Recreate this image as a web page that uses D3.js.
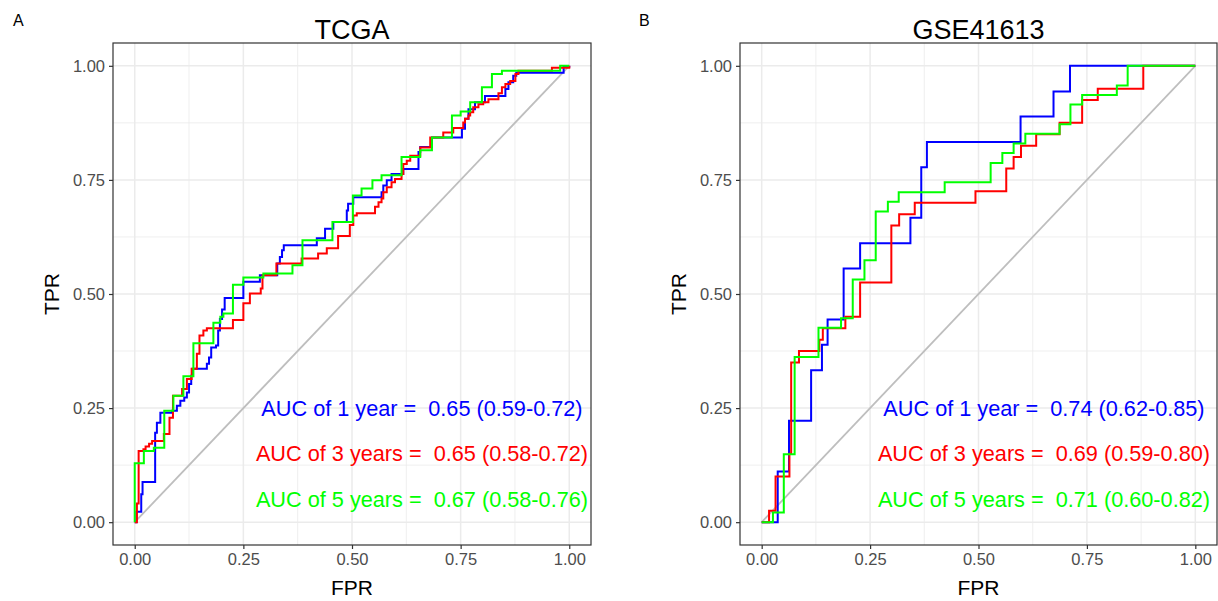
<!DOCTYPE html>
<html>
<head>
<meta charset="utf-8">
<script src="https://cdn.jsdelivr.net/npm/d3@7"></script>
<style>
  body { margin: 0; background: #fff; }
  text { font-family: "Liberation Sans", Arial, sans-serif; }
</style>
</head>
<body>
<div id="roc"></div>
<script>
// step corners: [fpr, tpr] = where the curve climbs to tpr
var tcga1 = [[0,0],[.004,.023],[.015,.061],[.018,.088],[.047,.196],[.051,.218],[.059,.240],[.086,.244],
  [.097,.255],[.105,.266],[.114,.273],[.120,.284],[.125,.303],[.130,.321],[.133,.336],[.166,.347],
  [.171,.361],[.176,.383],[.187,.387],[.192,.420],[.196,.445],[.201,.466],[.207,.491],[.250,.527],
  [.288,.541],[.328,.567],[.334,.581],[.339,.596],[.343,.607],[.419,.622],[.438,.643],[.457,.658],
  [.488,.683],[.491,.698],[.503,.712],[.568,.723],[.572,.738],[.580,.749],[.591,.763],[.618,.774],
  [.653,.811],[.657,.822],[.684,.843],[.753,.862],[.760,.884],[.768,.905],[.783,.920],[.806,.934],
  [.853,.949],[.860,.964],[.871,.978],[.878,.985],[.987,.998],[1,1]];
var tcga3 = [[0,0],[.005,.041],[.009,.156],[.020,.160],[.025,.166],[.033,.172],[.040,.178],[.067,.193],
  [.080,.229],[.088,.277],[.109,.292],[.120,.314],[.131,.336],[.143,.369],[.149,.409],[.158,.420],
  [.166,.425],[.226,.443],[.250,.480],[.265,.501],[.290,.512],[.294,.541],[.326,.567],[.384,.578],
  [.422,.589],[.442,.600],[.468,.627],[.495,.651],[.503,.672],[.511,.677],[.553,.691],[.561,.701],
  [.568,.709],[.572,.723],[.580,.734],[.591,.745],[.599,.752],[.614,.763],[.618,.785],[.626,.792],
  [.634,.803],[.657,.821],[.680,.843],[.710,.854],[.733,.864],[.756,.876],[.760,.884],[.768,.891],
  [.772,.898],[.779,.909],[.791,.916],[.802,.920],[.814,.927],[.837,.940],[.845,.953],[.853,.960],
  [.864,.967],[.876,.982],[.883,.989],[.960,.996],[1,1]];
var tcga5 = [[0,0],[0,.129],[.021,.156],[.044,.163],[.068,.244],[.089,.277],[.112,.320],[.135,.392],
  [.181,.437],[.197,.450],[.204,.457],[.226,.520],[.250,.536],[.296,.545],[.363,.563],[.386,.618],
  [.455,.658],[.502,.716],[.522,.731],[.547,.749],[.568,.760],[.614,.800],[.657,.815],[.684,.843],
  [.730,.891],[.750,.900],[.772,.920],[.799,.953],[.822,.982],[.845,.989],[.979,1],[1,1]];

var gse1 = [[0,0],[.037,.111],[.063,.222],[.114,.333],[.139,.389],[.152,.444],[.189,.556],[.227,.611],
  [.343,.667],[.368,.778],[.381,.833],[.597,.889],[.673,.944],[.711,1],[1,1]];
var gse3 = [[0,0],[.017,.025],[.032,.100],[.064,.150],[.068,.350],[.086,.375],[.133,.400],[.141,.425],
  [.193,.450],[.227,.525],[.299,.650],[.317,.675],[.353,.700],[.493,.725],[.564,.775],[.581,.800],
  [.598,.825],[.633,.850],[.687,.875],[.739,.925],[.775,.950],[.880,1],[1,1]];
var gse5 = [[0,0],[.026,.021],[.051,.149],[.076,.362],[.131,.426],[.183,.447],[.210,.532],[.237,.574],
  [.263,.681],[.291,.702],[.316,.723],[.422,.745],[.528,.787],[.555,.809],[.581,.830],[.608,.851],
  [.687,.872],[.712,.915],[.739,.936],[.819,.957],[.844,1],[1,1]];

var years   = ["1 year", "3 years", "5 years"];
var tcgaAuc = ["0.65 (0.59-0.72)", "0.65 (0.58-0.72)", "0.67 (0.58-0.76)"];
var gseAuc  = ["0.74 (0.62-0.85)", "0.69 (0.59-0.80)", "0.71 (0.60-0.82)"];
var ticks   = [0, 0.25, 0.5, 0.75, 1];
var minor   = [0.125, 0.375, 0.625, 0.875];
var colors  = ["#0000ff", "#ff0000", "#00ff00"];

var svg = d3.select("#roc").append("svg")
    .attr("width", 1218)
    .attr("height", 601);

var panels = [
  {tag: "A", tagX: 13, title: "TCGA",     left: 113, right: 591,  curves: [tcga1, tcga3, tcga5], auc: tcgaAuc, labX: 0.661, ttlX: 51},
  {tag: "B", tagX: 639, title: "GSE41613", left: 740, right: 1217, curves: [gse1, gse3, gse5],   auc: gseAuc,  labX: 0.651, ttlX: 678}
];

var pTop = 43, pBottom = 545;

panels.forEach((p) => {
  var x = d3.scaleLinear().domain([-0.05, 1.05]).range([p.left, p.right]);
  var y = d3.scaleLinear().domain([-0.05, 1.05]).range([pBottom, pTop]);
  var g = svg.append("g");

  // grid
  g.selectAll(".mx").data(minor).enter().append("line")
      .attr("x1", (d) => x(d)).attr("x2", (d) => x(d))
      .attr("y1", pTop).attr("y2", pBottom)
      .attr("style", "stroke: #ebebeb; stroke-width: 0.8;");
  g.selectAll(".my").data(minor).enter().append("line")
      .attr("y1", (d) => y(d)).attr("y2", (d) => y(d))
      .attr("x1", p.left).attr("x2", p.right)
      .attr("style", "stroke: #ebebeb; stroke-width: 0.8;");
  g.selectAll(".gx").data(ticks).enter().append("line")
      .attr("x1", (d) => x(d)).attr("x2", (d) => x(d))
      .attr("y1", pTop).attr("y2", pBottom)
      .attr("style", "stroke: #ebebeb; stroke-width: 1.5;");
  g.selectAll(".gy").data(ticks).enter().append("line")
      .attr("y1", (d) => y(d)).attr("y2", (d) => y(d))
      .attr("x1", p.left).attr("x2", p.right)
      .attr("style", "stroke: #ebebeb; stroke-width: 1.5;");

  // diagonal
  g.append("line")
      .attr("x1", x(0)).attr("y1", y(0))
      .attr("x2", x(1)).attr("y2", y(1))
      .attr("style", "stroke: #bebebe; stroke-width: 1.8;");

  var line = d3.line()
      .x((d) => x(d[0]))
      .y((d) => y(d[1]))
      .curve(d3.curveStepAfter);

  p.curves.forEach((c, i) => {
    g.append("path")
        .attr("d", line(c))
        .attr("style", "fill: none; stroke: " + colors[i] + "; stroke-width: 2;");
  });

  // auc labels
  [0.25, 0.15, 0.05].forEach((v, i) => {
    g.append("text")
        .attr("x", x(p.labX))
        .attr("y", y(v))
        .attr("dy", "0.35em")
        .attr("text-anchor", "middle")
        .attr("font-size", "21.7px")
        .attr("fill", colors[i])
        .style("white-space", "pre")
        .text("AUC of " + years[i] + " =  " + p.auc[i]);
  });

  // border
  g.append("rect")
      .attr("x", p.left).attr("y", pTop)
      .attr("width", p.right - p.left).attr("height", pBottom - pTop)
      .attr("style", "fill: none; stroke: #333333; stroke-width: 1.2;");

  // axes
  var ax = g.append("g")
      .attr("transform", "translate(0," + pBottom + ")")
      .call(d3.axisBottom(x).tickValues(ticks).tickFormat(d3.format(".2f")).tickSizeOuter(0).tickSize(4).tickPadding(4));
  var ay = g.append("g")
      .attr("transform", "translate(" + p.left + ",0)")
      .call(d3.axisLeft(y).tickValues(ticks).tickFormat(d3.format(".2f")).tickSizeOuter(0).tickSize(4).tickPadding(4));
  [ax, ay].forEach((a) => {
    a.select(".domain").remove();
    a.selectAll("line").attr("stroke", "#333333").attr("stroke-width", 1.2);
    a.selectAll("text")
        .attr("fill", "#4d4d4d")
        .attr("font-size", "16.5px")
        .style("font-family", "'Liberation Sans', Arial, sans-serif");
  });

  // titles
  g.append("text")
      .attr("x", (p.left + p.right) / 2)
      .attr("y", 39)
      .attr("text-anchor", "middle")
      .attr("font-size", "27px")
      .text(p.title);
  g.append("text")
      .attr("x", p.tagX)
      .attr("y", 26)
      .attr("font-size", "16px")
      .text(p.tag);
  g.append("text")
      .attr("x", x(0.5))
      .attr("y", 595)
      .attr("text-anchor", "middle")
      .attr("font-size", "21px")
      .text("FPR");
  g.append("text")
      .attr("transform", "translate(" + (p.ttlX + 8) + "," + y(0.5) + ") rotate(-90)")
      .attr("text-anchor", "middle")
      .attr("font-size", "21px")
      .text("TPR");
});
</script>
</body>
</html>
